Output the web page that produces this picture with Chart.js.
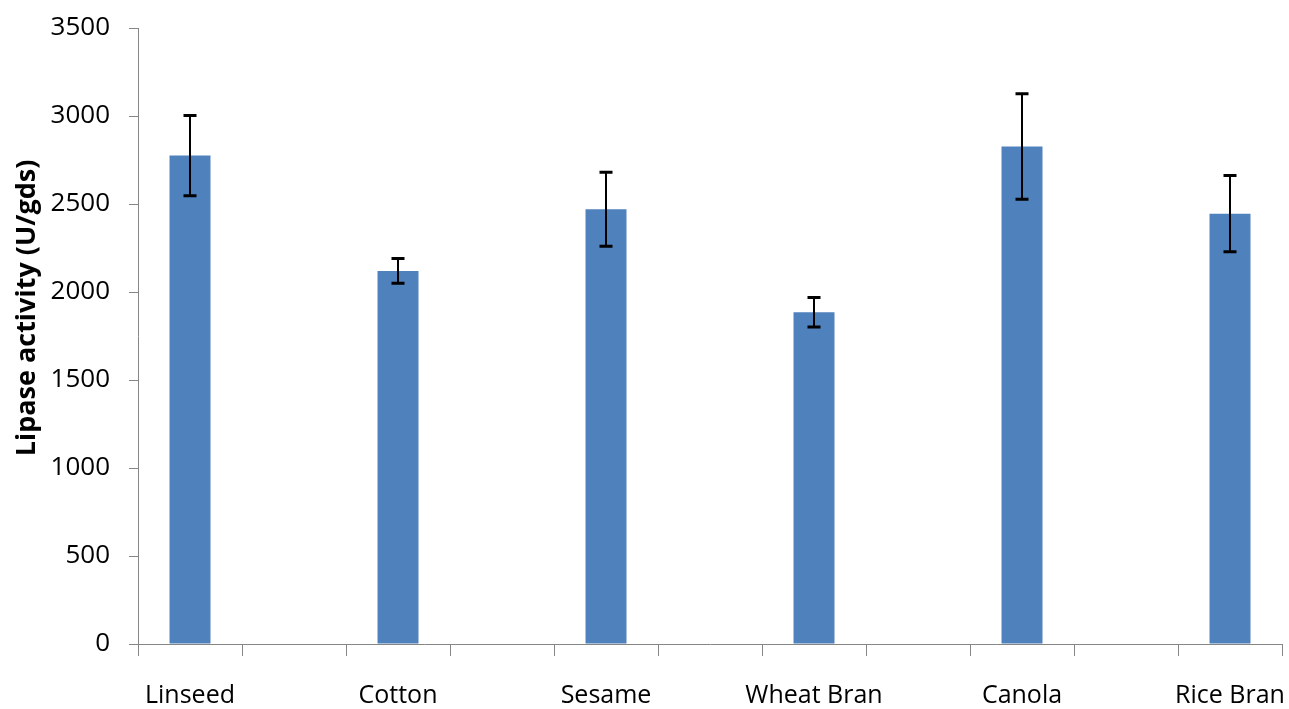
<!DOCTYPE html>
<html>
<head>
<meta charset="utf-8">
<script src="https://cdn.jsdelivr.net/npm/chart.js@4.4.1/dist/chart.umd.min.js"></script>
<style>
  html, body { margin: 0; padding: 0; background: #ffffff; }
  #wrap { width: 1289px; height: 709px; }
</style>
</head>
<body>
<div id="wrap"><canvas id="c" width="1289" height="709"></canvas></div>
<script>
const categories = ['Linseed', 'Cotton', 'Sesame', 'Wheat Bran', 'Canola', 'Rice Bran'];
const lipaseActivity = [2775, 2120, 2470, 1885, 2827, 2445];
const errorValues = [228, 70, 210, 84, 300, 217];
const yTicks = [0, 500, 1000, 1500, 2000, 2500, 3000, 3500];
const yTitle = 'Lipase activity (U/gds)';

// Each category is followed by an empty slot, as in the original chart.
const labels = [];
const values = [];
const errors = [];
categories.forEach((c, i) => {
  labels.push(c); values.push(lipaseActivity[i]); errors.push(errorValues[i]);
  if (i < categories.length - 1) { labels.push(''); values.push(null); errors.push(null); }
});

const axisColor = '#868686';
const fontFamily = '"Open Sans", "Liberation Sans", sans-serif';

const errorBarPlugin = {
  id: 'errorBars',
  afterDatasetsDraw(chart) {
    const ctx = chart.ctx;
    const meta = chart.getDatasetMeta(0);
    const yScale = chart.scales.y;
    ctx.save();
    ctx.strokeStyle = '#000000';
    meta.data.forEach((bar, i) => {
      const v = values[i], e = errors[i];
      if (v == null || e == null) return;
      const x = Math.round(bar.x);
      const yTop = yScale.getPixelForValue(v + e);
      const yBot = yScale.getPixelForValue(v - e);
      ctx.lineWidth = 2;
      ctx.beginPath();
      ctx.moveTo(x, yTop); ctx.lineTo(x, yBot); ctx.stroke();
      ctx.lineWidth = 3;
      ctx.beginPath();
      ctx.moveTo(x - 6.5, yTop); ctx.lineTo(x + 6.5, yTop);
      ctx.moveTo(x - 6.5, yBot); ctx.lineTo(x + 6.5, yBot);
      ctx.stroke();
    });
    ctx.restore();
  }
};

new Chart(document.getElementById('c'), {
  type: 'bar',
  data: {
    labels: labels,
    datasets: [{
      data: values,
      backgroundColor: '#4F81BD',
      borderWidth: 0,
      categoryPercentage: 1.0,
      barPercentage: 0.394
    }]
  },
  options: {
    responsive: false,
    animation: false,
    devicePixelRatio: 1,
    layout: { padding: { left: 0, right: 7, top: 28, bottom: 0 } },
    plugins: { legend: { display: false }, tooltip: { enabled: false } },
    scales: {
      x: {
        offset: true,
        grid: { display: true, offset: true, drawOnChartArea: false, drawTicks: true, tickLength: 12, color: axisColor, lineWidth: 1 },
        border: { display: true, color: axisColor, width: 1 },
        ticks: { color: '#000000', font: { family: fontFamily, size: 25 }, padding: 25, maxRotation: 0, autoSkip: false },
        afterFit(scale) { scale.height = 65; scale.paddingLeft = 0; scale.paddingRight = 0; }
      },
      y: {
        min: 0,
        max: 3500,
        afterBuildTicks(scale) { scale.ticks = yTicks.map(v => ({ value: v })); },
        grid: { display: true, drawOnChartArea: false, drawTicks: true, tickLength: 9, color: axisColor, lineWidth: 1 },
        border: { display: true, color: axisColor, width: 1 },
        ticks: { color: '#000000', font: { family: fontFamily, size: 26 }, padding: 19, callback: (v) => String(v) },
        title: {
          display: true,
          text: '        ' + yTitle,
          color: '#000000',
          font: { family: fontFamily, size: 27, weight: 'bold' },
          padding: { top: 11, bottom: 0 }
        },
        afterFit(scale) { scale.width = 138; scale.paddingTop = 0; scale.paddingBottom = 0; }
      }
    }
  },
  plugins: [errorBarPlugin]
});
</script>
</body>
</html>
